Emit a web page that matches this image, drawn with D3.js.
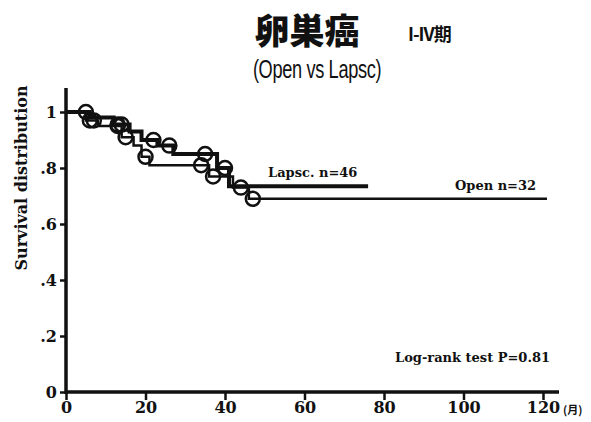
<!DOCTYPE html>
<html>
<head>
<meta charset="utf-8">
<script src="https://cdn.jsdelivr.net/npm/d3@7"></script>
<style>
  body { margin: 0; background: #fff; }
  svg text { fill: #111; }
</style>
</head>
<body>
<div class="chart"></div>
<script>
// survival curves

var yTicks = [0, 0.2, 0.4, 0.6, 0.8, 1],
    yTickLabels = ["0", ".2", ".4", ".6", ".8", "1"],
    xTicks = [0, 20, 40, 60, 80, 100, 120];

// Open, n=32
var openTimes = [0, 5, 8, 14, 17, 19, 21, 36, 42, 46],
    openSurv = [1, 0.97, 0.95, 0.91, 0.88, 0.84, 0.81, 0.77, 0.73, 0.69],
    openEnd = 121,
    openCensor = [6, 7, 13, 15, 20, 34, 37, 44, 47];

// Lapsc, n=46
var lapTimes = [0, 6, 12, 16, 19, 23, 27, 38, 41],
    lapSurv = [1, 0.98, 0.955, 0.93, 0.9, 0.88, 0.85, 0.80, 0.735],
    lapEnd = 76,
    lapCensor = [5, 13, 14, 22, 26, 35, 40];

var width = 591,
    height = 422,
    plotLeft = 66,
    plotRight = 543,
    plotTop = 88,
    plotBottom = 392;

var x = d3.scaleLinear().domain([0, 120]).range([plotLeft, plotRight]);
var y = d3.scaleLinear().domain([0, 1]).range([plotBottom, 112]);

var svg = d3.select(".chart").append("svg")
    .attr("width", width)
    .attr("height", height);

var serif = "'DejaVu Serif', serif";

// titles
svg.append("text")
    .attr("x", 307).attr("y", 44)
    .attr("text-anchor", "middle")
    .style("font-family", "'Noto Sans CJK JP', sans-serif")
    .style("font-weight", "900")
    .style("font-size", "35px")
    .text("卵巣癌");
svg.append("text")
    .attr("x", 408).attr("y", 41)
    .style("font-family", "'Noto Sans CJK JP', sans-serif")
    .style("font-weight", "700")
    .style("font-size", "18px")
    .style("letter-spacing", "-1px")
    .text("I-IV期");
svg.append("text")
    .attr("transform", "translate(317,78) scale(0.7,1)")
    .attr("text-anchor", "middle")
    .style("font-family", "'Liberation Sans', sans-serif")
    .style("font-size", "26px")
    .style("letter-spacing", "-0.5px")
    .text("(Open vs Lapsc)");

// axes
var yAxis = d3.axisLeft(y)
    .tickValues(yTicks)
    .tickFormat(function(d, i) { return yTickLabels[i]; })
    .tickSize(6)
    .tickPadding(3);

var gy = svg.append("g")
    .attr("transform", "translate(" + plotLeft + ",0)")
    .call(yAxis);

var xAxis = d3.axisBottom(x)
    .tickValues(xTicks)
    .tickSize(8)
    .tickPadding(2);

var gx = svg.append("g")
    .attr("transform", "translate(0," + plotBottom + ")")
    .call(xAxis);

[gx, gy].forEach(function(g) {
  g.select(".domain").remove();
  g.selectAll(".tick line").attr("stroke", "#111").attr("stroke-width", 2.5);
  g.selectAll(".tick text")
      .style("font-family", serif)
      .style("font-weight", "bold")
      .style("font-size", "16px");
});

// main axis lines
svg.append("line")
    .attr("x1", plotLeft).attr("x2", plotLeft)
    .attr("y1", plotTop).attr("y2", plotBottom + 2)
    .attr("stroke", "#111").attr("stroke-width", 3.5);
svg.append("line")
    .attr("x1", plotLeft).attr("x2", 559)
    .attr("y1", plotBottom).attr("y2", plotBottom)
    .attr("stroke", "#111").attr("stroke-width", 3.5);

svg.append("text")
    .attr("x", 563).attr("y", 414)
    .style("font-family", "'Noto Sans CJK JP', sans-serif")
    .style("font-weight", "700")
    .style("font-size", "11px")
    .text("(月)");

svg.append("text")
    .attr("transform", "translate(27,178) rotate(-90)")
    .attr("text-anchor", "middle")
    .style("font-family", serif)
    .style("font-weight", "bold")
    .style("font-size", "16px")
    .text("Survival distribution");

// step curves
var stepPath = function(times, surv, end) {
  var pts = times.map(function(t, i) { return [t, surv[i]]; });
  pts.push([end, surv[surv.length - 1]]);
  return d3.line()
      .x(function(d) { return x(d[0]); })
      .y(function(d) { return y(d[1]); })
      .curve(d3.curveStepAfter)(pts);
};

var survAt = function(times, surv, t) {
  var s = surv[0];
  for (var i = 0; i < times.length; i++) {
    if (times[i] <= t) s = surv[i];
  }
  return s;
};

var drawCurve = function(times, surv, end, censor, w) {
  svg.append("path")
      .attr("d", stepPath(times, surv, end))
      .attr("fill", "none")
      .attr("stroke", "#111")
      .attr("stroke-width", w);

  svg.append("g").selectAll("circle")
      .data(censor)
    .enter().append("circle")
      .attr("cx", function(d) { return x(d); })
      .attr("cy", function(d) { return y(survAt(times, surv, d)); })
      .attr("r", 7)
      .attr("fill", "none")
      .attr("stroke", "#111")
      .attr("stroke-width", 2.5);
};

drawCurve(lapTimes, lapSurv, lapEnd, lapCensor, 4);
drawCurve(openTimes, openSurv, openEnd, openCensor, 2.5);

// labels
svg.append("text")
    .attr("x", 268).attr("y", 177)
    .style("font-family", serif)
    .style("font-weight", "bold")
    .style("font-size", "13px")
    .text("Lapsc. n=46");
svg.append("text")
    .attr("x", 455).attr("y", 190)
    .style("font-family", serif)
    .style("font-weight", "bold")
    .style("font-size", "13px")
    .text("Open  n=32");
svg.append("text")
    .attr("x", 395).attr("y", 362)
    .style("font-family", serif)
    .style("font-weight", "bold")
    .style("font-size", "13px")
    .text("Log-rank test P=0.81");
</script>
</body>
</html>
